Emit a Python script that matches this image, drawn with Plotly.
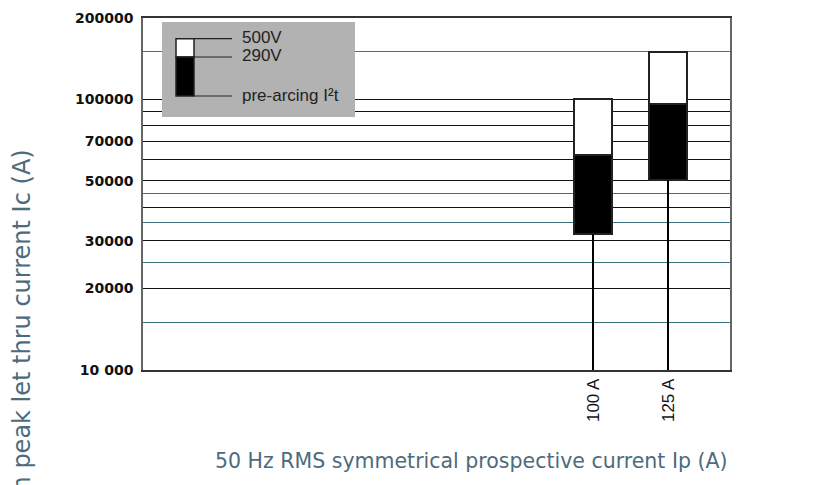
import plotly.graph_objects as go

# ---- data ----
categories = ["100 A", "125 A"]
x_pos = [6, 7]
pre_arcing = [31800, 50400]      # bottom of black box (pre-arcing I2t)
v290 = [62300, 96000]            # top of black box (290V)
v500 = [100000, 150000]          # top of white box (500V)

major_vals = [10000, 20000, 30000, 40000, 50000, 60000, 70000, 80000, 90000, 100000, 200000]
major_text = ["10 000", "20000", "30000", "", "50000", "", "70000", "", "", "100000", "200000"]
minor_vals = [15000, 25000, 35000, 45000, 150000]

legend_labels = ["500V", "290V", "pre-arcing I²t"]

TEAL = "#3b7380"
TITLE_COL = "#4d6b7d"

fig = go.Figure()

# stems from axis to pre-arcing value
for xp, pa in zip(x_pos, pre_arcing):
    fig.add_trace(go.Scatter(x=[xp, xp], y=[10000, pa], mode="lines",
                             line=dict(color="black", width=2), showlegend=False, hoverinfo="skip"))

# black boxes (pre-arcing -> 290V)
fig.add_trace(go.Bar(x=x_pos, base=pre_arcing, y=[b - a for a, b in zip(pre_arcing, v290)],
                     width=0.5, marker=dict(color="black", line=dict(color="#222", width=2)),
                     showlegend=False))
# white boxes (290V -> 500V)
fig.add_trace(go.Bar(x=x_pos, base=v290, y=[b - a for a, b in zip(v290, v500)],
                     width=0.5, marker=dict(color="white", line=dict(color="#222", width=2)),
                     showlegend=False))

fig.update_layout(
    width=822, height=485,
    margin=dict(l=135, r=100, t=10, b=123),
    paper_bgcolor="white", plot_bgcolor="white",
    barmode="overlay", bargap=0,
    showlegend=False,
    xaxis=dict(range=[0, 7.827], tickvals=x_pos, ticktext=categories, tickangle=-90,
               ticks="", ticklabelstandoff=0, automargin=False,
               tickfont=dict(family="Liberation Sans, Arial", size=17, color="#111"),
               showgrid=False, zeroline=False,
               showline=True, mirror=True, linecolor="#333", linewidth=1.5),
    yaxis=dict(type="log", range=[4, 5.30103], tickvals=major_vals, ticktext=major_text,
               ticks="", ticklabelstandoff=5, automargin=False,
               tickfont=dict(family="DejaVu Sans", size=14, color="#111", weight="bold"),
               showgrid=True, gridcolor="#111", gridwidth=1.3,
               minor=dict(tickvals=minor_vals, showgrid=True, gridcolor=TEAL, gridwidth=1, ticks=""),
               zeroline=False,
               showline=True, mirror=True, linecolor="#666", linewidth=1.5),
)

# legend box (grey panel with sample box); pixel positions relative to the plot area
def px_x(p):
    return (p - 143) / 587.0
def px_y(p):
    return (370 - p) / 352.0

shapes = [
    dict(type="rect", xref="paper", yref="paper", x0=px_x(162), x1=px_x(355), y0=px_y(117), y1=px_y(22),
         fillcolor="#b2b2b2", line=dict(width=0), layer="above"),
    dict(type="rect", xref="paper", yref="paper", x0=px_x(176), x1=px_x(194), y0=px_y(57), y1=px_y(38.7),
         fillcolor="white", line=dict(color="#222", width=1.5), layer="above"),
    dict(type="rect", xref="paper", yref="paper", x0=px_x(176), x1=px_x(194), y0=px_y(96), y1=px_y(57),
         fillcolor="black", line=dict(color="#222", width=1.5), layer="above"),
]
line_y = [38.7, 57, 96]
text_y = [38, 56, 95]
for ly in line_y:
    shapes.append(dict(type="line", xref="paper", yref="paper", x0=px_x(194), x1=px_x(232),
                       y0=px_y(ly), y1=px_y(ly), line=dict(color="#222", width=1.2), layer="above"))
fig.update_layout(shapes=shapes)

annotations = []
for lab, ty in zip(legend_labels, text_y):
    annotations.append(dict(text=lab, xref="paper", yref="paper", x=px_x(240), y=px_y(ty),
                            xanchor="left", yanchor="middle", showarrow=False,
                            font=dict(family="Liberation Sans, Arial", size=17, color="#222")))
annotations.append(dict(text="50 Hz RMS symmetrical prospective current Ip (A)", xref="paper", yref="paper",
                        x=1.0, y=px_y(461), xanchor="right", yanchor="middle", showarrow=False,
                        font=dict(family="DejaVu Sans", size=20.5, color=TITLE_COL)))
annotations.append(dict(text="Maximum peak let thru current Ic (A)", xref="paper", yref="paper",
                        x=px_x(21), y=px_y(148), xanchor="center", yanchor="top", textangle=-90,
                        showarrow=False,
                        font=dict(family="DejaVu Sans", size=24, color=TITLE_COL)))
fig.update_layout(annotations=annotations)

fig.write_html("out.html")
